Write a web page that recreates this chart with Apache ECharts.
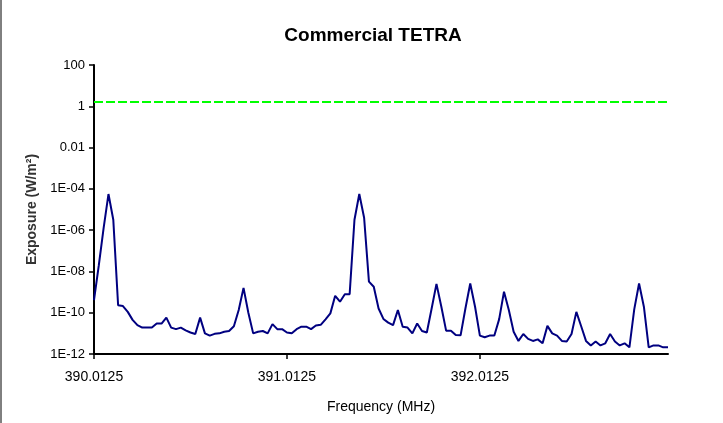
<!DOCTYPE html>
<html>
<head>
<meta charset="utf-8">
<script src="https://cdn.jsdelivr.net/npm/echarts@6/dist/echarts.min.js"></script>
<style>
  html, body { margin: 0; padding: 0; background: #fff; }
  #char { width: 723px; height: 423px; }
</style>
</head>
<body>
<div id="char"></div>
<script>
// channel grid: 25 kHz steps from 390.0125 MHz
const startFreq = 390.0125
const stepFreq = 0.025
const channelCount = 120

// exposure per channel (W/m2)
const exposure = [
  4.1e-10, 2.0e-8, 1.3e-6, 5.6e-5, 3.2e-6, 2.3e-10, 2.1e-10, 1.1e-10, 4.5e-11, 2.5e-11,
  1.9e-11, 1.9e-11, 1.9e-11, 3.0e-11, 3.0e-11, 5.8e-11, 1.9e-11, 1.6e-11, 1.9e-11, 1.4e-11,
  1.1e-11, 9.3e-12, 5.8e-11, 1.0e-11, 7.8e-12, 9.5e-12, 1.0e-11, 1.2e-11, 1.3e-11, 2.2e-11,
  1.35e-10, 1.6e-9, 1.0e-10, 1.0e-11, 1.2e-11, 1.3e-11, 1.0e-11, 2.8e-11, 1.6e-11, 1.6e-11,
  1.1e-11, 1.0e-11, 1.6e-11, 2.1e-11, 2.1e-11, 1.6e-11, 2.4e-11, 2.6e-11, 4.8e-11, 9.3e-11,
  6.6e-10, 3.4e-10, 7.9e-10, 7.9e-10, 3.2e-6, 5.6e-5, 4.0e-6, 3.2e-9, 1.8e-9, 1.6e-10,
  5.0e-11, 3.3e-11, 2.5e-11, 1.35e-10, 2.1e-11, 1.9e-11, 1.0e-11, 3.0e-11, 1.3e-11, 1.1e-11,
  1.6e-10, 2.5e-9, 2.0e-10, 1.35e-11, 1.35e-11, 8.3e-12, 8.0e-12, 1.6e-10, 2.6e-9, 1.95e-10,
  7.8e-12, 6.5e-12, 7.8e-12, 7.8e-12, 4.9e-11, 1.05e-9, 1.35e-10, 1.2e-11, 4.3e-12, 9.3e-12,
  5.4e-12, 4.3e-12, 5.1e-12, 3.3e-12, 2.3e-11, 1.0e-11, 7.8e-12, 4.3e-12, 4.0e-12, 9.3e-12,
  1.1e-10, 2.2e-11, 4.3e-12, 2.6e-12, 4.0e-12, 2.6e-12, 3.3e-12, 9.3e-12, 4.0e-12, 2.6e-12,
  3.3e-12, 2.1e-12, 1.45e-10, 2.6e-9, 1.95e-10, 2.1e-12, 2.6e-12, 2.6e-12, 2.1e-12, 2.1e-12
]

// reference level (dashed green)
const limitLevel = 1.6

const freqs = []
for (let i = 0; i < channelCount; i++) freqs.push((startFreq + i * stepFreq).toFixed(4))

function yLabel(v) {
  const e = Math.round(Math.log10(v))
  if (e >= 0) return String(Math.pow(10, e))
  if (e >= -2) return v.toFixed(-e)
  const a = -e
  return '1E-' + (a < 10 ? '0' + a : a)
}

let myChart = echarts.init(document.getElementById('char'))
let option = {
  animation: false,
  title: {
    text: 'Commercial TETRA',
    left: 368,
    top: 21,
    textAlign: 'center',
    textStyle: { fontFamily: 'Liberation Sans', fontSize: 19, fontWeight: 'bold', color: '#000' }
  },
  grid: {
    left: 94,
    right: 55,
    top: 65,
    bottom: 69,
    outerBoundsMode: 'none'
  },
  xAxis: {
    type: 'category',
    boundaryGap: false,
    data: freqs,
    name: 'Frequency (MHz)',
    nameLocation: 'middle',
    nameGap: 46,
    nameTextStyle: { fontFamily: 'Liberation Sans', fontSize: 14, color: '#000' },
    axisLine: { lineStyle: { color: '#000', width: 2 } },
    axisTick: { interval: 39, length: 5, lineStyle: { color: '#000', width: 1.5 } },
    axisLabel: { interval: 39, margin: 16, fontFamily: 'Liberation Sans', fontSize: 14, color: '#000' },
    splitLine: { show: false }
  },
  yAxis: {
    type: 'log',
    logBase: 10,
    min: 1e-12,
    max: 100,
    interval: 2,
    name: 'Exposure (W/m²)',
    nameLocation: 'middle',
    nameGap: 53,
    nameTextStyle: { fontFamily: 'Liberation Sans', fontSize: 14, fontWeight: 'bold', color: '#333' },
    axisLine: { show: true, lineStyle: { color: '#000', width: 2 } },
    axisTick: { show: true, length: 5, lineStyle: { color: '#000', width: 1.5 } },
    axisLabel: { margin: 9, fontFamily: 'Liberation Sans', fontSize: 13, color: '#000', formatter: yLabel },
    splitLine: { show: false }
  },
  graphic: [
    { type: 'line', shape: { x1: 1, y1: 0, x2: 1, y2: 423 }, style: { stroke: '#000', lineWidth: 1 } }
  ],
  series: [
    {
      type: 'line',
      data: exposure,
      symbol: 'none',
      lineStyle: { color: '#000080', width: 2 },
      markLine: {
        silent: true,
        symbol: 'none',
        label: { show: false },
        lineStyle: { color: '#00ff00', width: 2, type: [9, 3] },
        data: [{ yAxis: limitLevel }]
      }
    }
  ]
}
myChart.setOption(option)
</script>
</body>
</html>
